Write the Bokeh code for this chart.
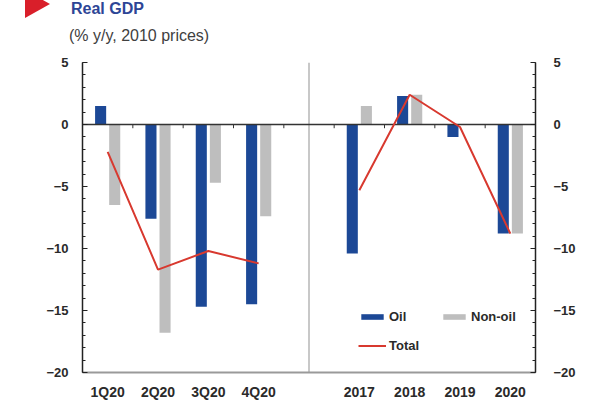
from bokeh.plotting import figure
from bokeh.layouts import column
from bokeh.models import (Range1d, FixedTicker, Legend, LegendItem,
                          LinearAxis, ColumnDataSource, Div)
from bokeh.embed import file_html
from bokeh.resources import INLINE

categories = ["1Q20", "2Q20", "3Q20", "4Q20", "", "2017", "2018", "2019", "2020"]
oil =     [1.5, -7.6, -14.7, -14.5, None, -10.4, 2.3, -1.0, -8.8]
non_oil = [-6.5, -16.8, -4.7, -7.4, None, 1.5, 2.4, 0.0, -8.8]
total =   [-2.2, -11.7, -10.2, -11.2, None, -5.3, 2.4, -0.2, -8.8]
y_ticks = [5, 0, -5, -10, -15, -20]
title = "Real GDP"
subtitle = "(% y/y, 2010 prices)"

OIL_C = "#1c4896"
NON_C = "#bebebe"
TOT_C = "#d8392f"
TXT = "#2a2a2a"

W = 586
HH = 50                      # header height
H = 403 - HH                 # main figure height
FL, FR = 82, 535             # frame left/right on canvas
FT, FB = 62 - HH, 372 - HH   # frame top/bottom inside the main figure

# ---------- header with title, subtitle and red marker ----------
html = (
    f'<div style="position:relative;width:{W}px;height:{HH}px;overflow:hidden;'
    'font-family:\'Liberation Sans\',sans-serif;">'
    '<div style="position:absolute;left:25px;top:-10px;width:0;height:0;'
    'border-top:14px solid transparent;border-bottom:14px solid transparent;'
    'border-left:25px solid #d91f2a;"></div>'
    '<div style="position:absolute;left:71px;top:1px;font-size:16px;font-weight:bold;'
    f'color:#2d4596;line-height:16px;white-space:nowrap;">{title}</div>'
    '<div style="position:absolute;left:69px;top:27px;font-size:16px;'
    f'color:#404040;line-height:18px;white-space:nowrap;">{subtitle}</div>'
    '</div>'
)
hdr = Div(text=html, width=W, height=HH, margin=0)

# ---------- main chart ----------
p = figure(width=W, height=H, output_backend="svg", toolbar_location=None,
           x_range=Range1d(0, len(categories)), y_range=Range1d(-20, 5),
           min_border_left=FL, min_border_right=W - FR, min_border_top=FT,
           min_border_bottom=H - FB, outline_line_color=None, margin=0)
p.grid.visible = False
p.background_fill_color = "white"

idx = [i for i, c in enumerate(categories) if c]
xc = [i + 0.5 for i in idx]

src_oil = ColumnDataSource(dict(x=[i + 0.5 - 0.14 for i in idx], top=[oil[i] for i in idx]))
src_non = ColumnDataSource(dict(x=[i + 0.5 + 0.14 for i in idx], top=[non_oil[i] for i in idx]))
r_oil = p.vbar(x="x", top="top", bottom=0, width=0.22, source=src_oil,
               fill_color=OIL_C, line_color=None)
r_non = p.vbar(x="x", top="top", bottom=0, width=0.22, source=src_non,
               fill_color=NON_C, line_color=None)

# separator between quarterly and annual panels
sep = categories.index("") + 0.5
p.segment(x0=[sep], y0=[-20], x1=[sep], y1=[5], line_color="#c8c8c8", line_width=2)

# zero line and category ticks
p.segment(x0=[0], y0=[0], x1=[len(categories)], y1=[0], line_color="#333333", line_width=1.5)
bounds = list(range(1, len(categories)))
p.segment(x0=bounds, y0=[0] * len(bounds), x1=bounds, y1=[-0.3] * len(bounds),
          line_color="#333333", line_width=1)

# total line: two segments
q_idx = [i for i in idx if i < sep]
a_idx = [i for i in idx if i > sep]
r_tot = p.line([i + 0.5 for i in q_idx], [total[i] for i in q_idx], line_color=TOT_C, line_width=2)
p.line([i + 0.5 for i in a_idx], [total[i] for i in a_idx], line_color=TOT_C, line_width=2)

# axes
xa = p.xaxis[0]
xa.ticker = FixedTicker(ticks=xc)
xa.major_label_overrides = {x: categories[i] for x, i in zip(xc, idx)}
xa.major_tick_in = 0
xa.major_tick_out = 0
xa.minor_tick_in = 0
xa.minor_tick_out = 0
xa.major_tick_line_color = None
xa.minor_tick_line_color = None
xa.axis_line_color = "#9a9a9a"
xa.axis_line_width = 2
xa.major_label_text_font = "Liberation Sans"
xa.major_label_text_font_size = "14px"
xa.major_label_text_font_style = "bold"
xa.major_label_text_color = TXT
xa.major_label_standoff = 11

ya = p.yaxis[0]
ra = LinearAxis()
p.add_layout(ra, "right")
for ax, so in ((ya, 14), (ra, 18)):
    ax.ticker = FixedTicker(ticks=y_ticks, minor_ticks=list(range(-20, 6)))
    ax.major_tick_in = 5
    ax.major_tick_out = 0
    ax.minor_tick_in = 3
    ax.minor_tick_out = 0
    ax.axis_line_color = "#222222"
    ax.axis_line_width = 1.5
    ax.major_tick_line_color = "#222222"
    ax.minor_tick_line_color = "#222222"
    ax.major_label_text_font = "Liberation Sans"
    ax.major_label_text_font_size = "13px"
    ax.major_label_text_color = TXT
    ax.major_label_standoff = so
    ax.major_label_text_font_style = "bold"

# legend (column-major fill: Oil / Total in first column, Non-oil in second)
legend = Legend(items=[LegendItem(label="Oil", renderers=[r_oil]),
                       LegendItem(label="Total", renderers=[r_tot]),
                       LegendItem(label="Non-oil", renderers=[r_non])],
                location=(358 - FL, 372 - 355), ncols=2, glyph_width=28, glyph_height=7,
                label_width=42, label_height=20,
                label_text_font="Liberation Sans", label_text_font_size="13px",
                label_text_font_style="bold", label_text_color=TXT,
                background_fill_alpha=0, border_line_color=None,
                spacing=9, label_standoff=3, padding=0, margin=0)
p.add_layout(legend, "center")

layout = column(hdr, p, spacing=0)
open("out.html", "w").write(file_html(layout, INLINE))
